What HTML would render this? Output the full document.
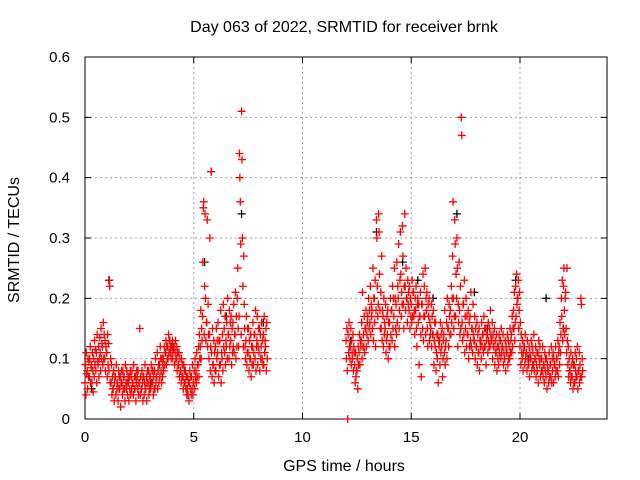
<!DOCTYPE html>
<html><head><meta charset="utf-8"><style>
html,body{margin:0;padding:0;background:#fff}
svg{display:block;font-family:"Liberation Sans",sans-serif}
</style></head><body>
<svg id="chart" width="640" height="480" viewBox="0 0 640 480" xmlns="http://www.w3.org/2000/svg">
<text x="344" y="32" font-size="16" text-anchor="middle">Day 063 of 2022, SRMTID for receiver brnk</text>
<text x="344" y="471" font-size="16" text-anchor="middle">GPS time / hours</text>
<text transform="translate(19,240) rotate(-90)" font-size="16" text-anchor="middle">SRMTID / TECUs</text>
<g id="grid"></g>
<g id="axes"></g>
<g id="black-series"></g>
<g id="red-series"></g>
</svg>
<script>
const xTicks=[0,5,10,15,20];
const xTickLabels=["0","5","10","15","20"];
const yTicks=[0,0.1,0.2,0.3,0.4,0.5,0.6];
const yTickLabels=["0","0.1","0.2","0.3","0.4","0.5","0.6"];
const redTimes=[0,0.1,0.2,0.3,0.4,0.5,0.6,0.7,0.8,0.9,1.0,1.1,1.2,1.3,1.4,1.5,1.6,1.7,1.8,1.9,2.0,2.1,2.2,2.3,2.4,2.5,2.6,2.7,2.8,2.9,3.0,3.1,3.2,3.3,3.4,3.5,3.6,3.7,3.8,3.9,4.0,4.1,4.2,4.3,4.4,4.5,4.6,4.7,4.8,4.9,5.0,5.1,5.2,5.3,5.4,5.5,5.6,5.7,5.8,5.9,6.0,6.1,6.2,6.3,6.4,6.5,6.6,6.7,6.8,6.9,7.0,7.1,7.2,7.3,7.4,7.5,7.6,7.7,7.8,7.9,8.0,8.1,8.2,8.3,
12.0,12.1,12.2,12.3,12.4,12.5,12.6,12.7,12.8,12.9,13.0,13.1,13.2,13.3,13.4,13.5,13.6,13.7,13.8,13.9,14.0,14.1,14.2,14.3,14.4,14.5,14.6,14.7,14.8,14.9,15.0,15.1,15.2,15.3,15.4,15.5,15.6,15.7,15.8,15.9,16.0,16.1,16.2,16.3,16.4,16.5,16.6,16.7,16.8,16.9,17.0,17.1,17.2,17.3,17.4,17.5,17.6,17.7,17.8,17.9,18.0,18.1,18.2,18.3,18.4,18.5,18.6,18.7,18.8,18.9,19.0,19.1,19.2,19.3,19.4,19.5,19.6,19.7,19.8,19.9,20.0,20.1,20.2,20.3,20.4,20.5,20.6,20.7,20.8,20.9,21.0,21.1,21.2,21.3,21.4,21.5,21.6,21.7,21.8,21.9,22.0,22.1,22.2,22.3,22.4,22.5,22.6,22.7,22.8];
const redValues=[
[.06,.09,.04,.11,.075],[.08,.05,.10,.07,.095],[.07,.10,.12,.06,.085],[.09,.06,.11,.08,.045],[.10,.07,.13,.09,.115],[.08,.11,.06,.14,.095],[.09,.12,.07,.10,.135],[.11,.08,.15,.10,.125],[.12,.09,.16,.10,.14],[.10,.13,.08,.12,.11],
[.11,.07,.14,.09,.125],[.08,.23,.22,.06,.10],[.06,.09,.04,.07,.05],[.05,.08,.03,.06,.07],[.07,.04,.09,.05,.06],[.06,.03,.08,.05,.07],[.05,.07,.02,.06,.08],[.06,.04,.08,.05,.07],[.07,.05,.03,.09,.06],[.05,.08,.06,.04,.07],
[.06,.03,.07,.05,.08],[.04,.07,.05,.08,.06],[.06,.04,.09,.05,.07],[.05,.07,.03,.06,.08],[.07,.05,.08,.04,.06],[.06,.15,.04,.07,.05],[.05,.08,.06,.03,.07],[.07,.04,.06,.09,.05],[.05,.07,.03,.06,.08],[.06,.08,.04,.05,.07],
[.07,.05,.09,.06,.08],[.06,.08,.04,.07,.05],[.08,.05,.10,.06,.07],[.07,.11,.05,.08,.09],[.06,.09,.07,.12,.10],[.08,.06,.10,.07,.09],[.10,.08,.12,.09,.11],[.11,.13,.09,.12,.10],[.12,.10,.14,.11,.13],[.13,.11,.12,.10,.12],
[.11,.13,.10,.12,.115],[.12,.09,.11,.13,.10],[.10,.12,.08,.11,.09],[.09,.11,.07,.10,.08],[.08,.06,.10,.07,.09],[.07,.05,.09,.06,.08],[.06,.08,.05,.07,.04],[.05,.07,.04,.06,.03],[.06,.08,.05,.07,.04],[.07,.05,.09,.04,.06],
[.06,.08,.05,.10,.07],[.08,.06,.11,.07,.09],[.09,.12,.07,.14,.10],[.12,.18,.10,.15,.13],[.17,.26,.35,.36,.14],[.22,.34,.20,.13,.16],[.16,.33,.12,.19,.14],[.10,.14,.30,.08,.12],[.41,.11,.07,.15,.09],[.09,.13,.06,.11,.08],
[.12,.08,.15,.10,.13],[.11,.16,.07,.13,.09],[.13,.09,.18,.06,.11],[.10,.14,.08,.19,.12],[.15,.11,.17,.09,.13],[.12,.16,.10,.20,.14],[.14,.10,.18,.12,.16],[.13,.17,.09,.15,.11],[.16,.12,.19,.11,.14],[.14,.21,.10,.17,.12],
[.20,.25,.15,.12,.17],[.44,.40,.36,.29,.14],[.51,.43,.30,.22,.12],[.27,.19,.15,.12,.10],[.13,.17,.09,.11,.15],[.11,.15,.08,.13,.10],[.10,.14,.07,.12,.09],[.12,.16,.09,.11,.14],[.14,.10,.18,.08,.12],[.13,.17,.09,.12,.15],
[.11,.15,.08,.14,.10],[.12,.16,.10,.13,.09],[.14,.09,.17,.11,.13],[.12,.15,.08,.16,.10],
[.13,.10,.15,.08,0],[.14,.11,.16,.12,.10],[.12,.15,.09,.13,.11],[.10,.14,.08,.12,.11],[.09,.06,.11,.07,.08],[.08,.10,.05,.12,.09],[.11,.14,.09,.13,.12],[.13,.16,.10,.21,.12],[.14,.12,.17,.11,.15],[.15,.18,.12,.14,.16],
[.17,.13,.20,.15,.18],[.16,.22,.14,.19,.17],[.18,.15,.25,.13,.20],[.20,.16,.23,.12,.18],[.33,.30,.22,.17,.19],[.34,.31,.24,.18,.15],[.21,.15,.27,.13,.18],[.17,.12,.20,.14,.16],[.15,.19,.11,.13,.17],[.14,.18,.10,.16,.12],
[.16,.12,.20,.14,.18],[.18,.13,.22,.15,.20],[.17,.25,.12,.20,.15],[.19,.14,.26,.16,.22],[.20,.29,.15,.18,.23],[.31,.24,.17,.21,.19],[.32,.27,.19,.15,.22],[.34,.22,.18,.25,.20],[.20,.16,.23,.19,.21],[.18,.22,.15,.20,.17],
[.19,.16,.23,.17,.21],[.21,.17,.18,.14,.20],[.18,.22,.15,.12,.19],[.20,.16,.19,.09,.17],[.17,.21,.14,.07,.19],[.19,.15,.24,.13,.17],[.22,.17,.25,.14,.20],[.18,.21,.15,.12,.19],[.17,.20,.13,.16,.14],[.15,.19,.12,.17,.14],
[.14,.18,.09,.13,.16],[.12,.16,.08,.11,.14],[.10,.14,.06,.13,.12],[.13,.09,.16,.11,.14],[.12,.15,.07,.10,.13],[.14,.11,.18,.09,.12],[.13,.16,.10,.20,.15],[.15,.12,.19,.17,.14],[.18,.14,.22,.16,.20],[.27,.36,.20,.15,.17],
[.33,.29,.17,.24,.20],[.30,.25,.12,.19,.16],[.26,.18,.14,.22,.15],[.50,.47,.16,.13,.19],[.19,.14,.23,.11,.17],[.15,.20,.12,.17,.14],[.14,.18,.10,.16,.12],[.17,.13,.21,.12,.15],[.15,.11,.19,.14,.13],[.13,.17,.10,.15,.12],
[.12,.16,.09,.14,.11],[.11,.15,.08,.13,.12],[.13,.10,.16,.12,.14],[.14,.11,.17,.12,.15],[.12,.15,.09,.13,.14],[.14,.11,.16,.13,.12],[.15,.12,.18,.14,.13],[.13,.16,.10,.14,.12],[.12,.15,.09,.13,.11],[.11,.14,.08,.12,.10],
[.12,.09,.14,.11,.13],[.13,.10,.15,.11,.12],[.12,.14,.09,.11,.10],[.10,.13,.08,.12,.11],[.11,.14,.09,.13,.10],[.12,.10,.15,.11,.13],[.14,.11,.17,.12,.15],[.18,.15,.21,.13,.16],[.22,.17,.24,.19,.20],[.20,.23,.15,.18,.21],
[.12,.16,.09,.14,.11],[.10,.13,.08,.11,.12],[.12,.09,.14,.10,.11],[.11,.08,.13,.10,.09],[.09,.12,.07,.11,.10],[.10,.13,.08,.12,.09],[.11,.09,.14,.08,.10],[.10,.12,.07,.09,.11],[.08,.11,.06,.13,.10],[.09,.12,.07,.10,.08],
[.10,.08,.12,.07,.09],[.09,.06,.11,.08,.10],[.07,.10,.05,.09,.08],[.08,.06,.11,.07,.09],[.09,.07,.12,.06,.10],[.08,.11,.06,.10,.09],[.09,.07,.12,.08,.10],[.10,.08,.13,.07,.11],[.12,.09,.16,.11,.14],[.20,.17,.23,.13,.15],
[.22,.25,.18,.14,.20],[.21,.15,.11,.25,.13],[.09,.12,.07,.10,.08],[.08,.06,.11,.07,.09],[.07,.10,.05,.09,.06],[.09,.06,.11,.08,.07],[.10,.07,.12,.05,.08],[.08,.11,.06,.09,.07],[.20,.19,.07,.10,.08]];
const blackTimes=[0.3,1.1,3.0,4.0,5.5,5.8,6.5,7.2,8.2,12.2,13.4,14.6,15.3,16.0,17.1,17.9,18.5,19.8,20.4,21.2,22.0];
const blackValues=[.05,.23,.06,.12,.26,.41,.17,.34,.16,.13,.31,.26,.23,.20,.34,.21,.15,.23,.10,.20,.15];

const L=85,R=607,T=57,B=419,XMAX=24,YMAX=0.6;
const xs=t=>L+(t/XMAX)*(R-L);
const ys=v=>B-(v/YMAX)*(B-T);
const NS="http://www.w3.org/2000/svg";
function mk(tag,attrs,parent){const e=document.createElementNS(NS,tag);for(const k in attrs)e.setAttribute(k,attrs[k]);parent.appendChild(e);return e;}
const grid=document.getElementById('grid'),axes=document.getElementById('axes');
yTicks.forEach((v,i)=>{
  const y=ys(v);
  if(i>0&&i<yTicks.length-1){const g=mk('line',{x1:L,x2:R,y1:y,y2:y,stroke:'#a0a0a0','stroke-dasharray':'2,3'},grid);
  
  }
  const t1=mk('line',{x1:L,x2:L+6,y1:y,y2:y,stroke:'#000'},axes);
  
  
  const t2=mk('line',{x1:R-6,x2:R,y1:y,y2:y,stroke:'#000'},axes);
  
  
  const tx=mk('text',{x:L-15,y:y+5,'font-size':15,'text-anchor':'end'},axes);tx.textContent=yTickLabels[i];
  
  
});
xTicks.forEach((t,i)=>{
  const x=xs(t);
  if(i>0){const g=mk('line',{x1:x,x2:x,y1:T,y2:B,stroke:'#a0a0a0','stroke-dasharray':'2,3'},grid);
  
  }
  const t1=mk('line',{x1:x,x2:x,y1:B-6,y2:B,stroke:'#000'},axes);
  
  
  const t2=mk('line',{x1:x,x2:x,y1:T,y2:T+6,stroke:'#000'},axes);
  
  
  const tx=mk('text',{x:x,y:B+23,'font-size':15,'text-anchor':'middle'},axes);tx.textContent=xTickLabels[i];
  
  
});
const box=mk('rect',{x:L,y:T,width:R-L,height:B-T,fill:'none',stroke:'#000'},axes);


function plus(g,t,v,color,name){
  const x=xs(t),y=ys(v);
  const p=mk('path',{d:`M${x-4},${y}h8M${x},${y-4}v8`,stroke:color,'stroke-width':1.3,fill:'none'},g);
  
  
}
const bg=document.getElementById('black-series');
blackTimes.forEach((t,i)=>plus(bg,t,blackValues[i],'#000','black-point'));
const rg=document.getElementById('red-series');
redTimes.forEach((t,i)=>{const vals=redValues[i];vals.forEach((v,j)=>plus(rg,t+j*0.02,v,'#ff0000','red-point'));});
</script>
</body></html>
